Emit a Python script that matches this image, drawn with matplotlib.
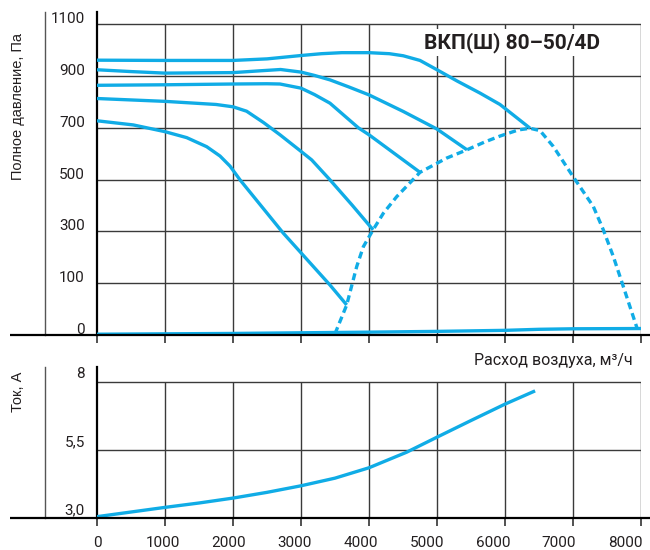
"""
Fan performance chart VKP(Sh) 80-50/4D: total pressure and current vs air flow
"""

import matplotlib
matplotlib.use('Agg')
import matplotlib.pyplot as plt
from matplotlib.transforms import ScaledTranslation, blended_transform_factory


# Axis ticks / labels
FLOW_TICKS = [0, 1000, 2000, 3000, 4000, 5000, 6000, 7000, 8000]
FLOW_LABELS = ["0", "1000", "2000", "3000", "4000", "5000", "6000", "7000", "8000"]
PRESSURE_GRID = [100, 300, 500, 700, 900, 1100]
PRESSURE_TICKS = [-100, 100, 300, 500, 700, 900, 1100]
PRESSURE_LABELS = ["0", "100", "300", "500", "700", "900", "1100"]
CURRENT_GRID = [5.5, 8.0]
CURRENT_TICKS = [3.0, 5.5, 8.0]
CURRENT_LABELS = ["3,0", "5,5", "8"]

# Pressure curves, one per speed step
FLOW_1 = [0, 1000, 2000, 2500, 3000, 3300, 3600, 4000, 4300, 4504, 4750,
          5000, 5300, 5632, 5926, 6370]
PRESS_1 = [961, 960, 960, 966, 979, 986, 990, 990, 986, 978, 960,
           924, 880, 834, 790, 698]

FLOW_2 = [0, 500, 1000, 2000, 2400, 2700, 3000, 3200, 3426, 3700, 4000,
          4504, 5000, 5441]
PRESS_2 = [924, 917, 911, 913, 920, 925, 915, 902, 885, 858, 827,
           763, 695, 615]

FLOW_3 = [0, 1000, 2000, 2500, 2691, 3000, 3200, 3426, 3843, 4000, 4750]
PRESS_3 = [864, 866, 869, 870, 869, 853, 828, 795, 700, 673, 528]

FLOW_4 = [0, 1000, 1750, 2000, 2200, 2450, 2691, 3000, 3157, 3426, 3750, 4060]
PRESS_4 = [813, 802, 790, 781, 764, 720, 673, 609, 576, 499, 402, 306]

FLOW_5 = [0, 534, 1000, 1319, 1613, 1809, 1956, 2103, 2740, 3426, 3672]
PRESS_5 = [727, 711, 685, 662, 627, 591, 552, 499, 293, 93, 16]

# Dashed working-range boundary
LIMIT_FLOW = [3500, 3672, 3819, 3917, 4060, 4211, 4407, 4750, 5142, 5441,
              5700, 5926, 6200, 6370, 6515, 6710, 7000, 7299, 7446, 7593,
              7740, 7940]
LIMIT_PRESS = [-95, 16, 164, 241, 306, 370, 434, 528, 583, 615,
               645, 668, 692, 698, 689, 628, 512, 396, 306, 203,
               87, -72]

# Line along the bottom of the pressure chart
BASE_FLOW = [0, 2000, 4000, 5000, 6000, 6500, 7000, 8000]
BASE_PRESS = [-97, -94, -89, -86, -82, -78, -76, -75]

# Current curve
CURRENT_FLOW = [0, 500, 1000, 1500, 2000, 2500, 3000, 3500, 4000, 4554,
                5000, 5500, 6000, 6420]
CURRENT_AMPS = [3.06, 3.23, 3.40, 3.56, 3.74, 3.95, 4.19, 4.47, 4.85, 5.42,
                5.97, 6.58, 7.18, 7.64]

BLUE = "#10ACE6"
GRID = "#3a3a3a"
TEXT = "#231f20"
TICK_FONT = "Roboto"
LABEL_FONT = ["Liberation Sans", "DejaVu Sans"]

# figure is 650x550 px, positions below in px
W, H = 650.0, 550.0
X0_PX, X1_PX = 97, 641
LEFT_LINE_X = -765      # extra vertical line left of the labels
EXT_LEFT, EXT_RIGHT = -1279, 8132


def px_offset(fig, dx, dy):
    return ScaledTranslation(dx / fig.dpi, dy / fig.dpi, fig.dpi_scale_trans)


def style_axes(ax, fig, ymin, ymax, ticks, labels, label_dy):
    ax.set_xlim(0, 8000)
    ax.set_ylim(ymin, ymax)
    for side in ["top", "right", "bottom"]:
        ax.spines[side].set_visible(False)
    ax.spines["left"].set_linewidth(1.6)
    ax.spines["left"].set_color("black")
    ax.set_yticks([])
    ax.set_xticks(FLOW_TICKS)
    ax.tick_params(axis="x", direction="out", length=6, width=1.1,
                   color="#222222", labelbottom=False)

    # bottom axis line reaching past the plot on both sides
    ax.plot([EXT_LEFT, EXT_RIGHT], [ymin, ymin], color="black", lw=1.6,
            clip_on=False, zorder=4, solid_capstyle="butt")
    ax.plot([LEFT_LINE_X, LEFT_LINE_X], [ymin, ymax], color="#555555", lw=1.0,
            clip_on=False, zorder=2)

    ax.vlines(FLOW_TICKS[1:], ymin, ticks[-1], colors=GRID, lw=1.0, zorder=1)

    # value labels sit a little above their grid line
    tr = ax.transData + px_offset(fig, -12, label_dy)
    for y, txt in zip(ticks, labels):
        ax.text(0, y, txt, transform=tr, ha="right", va="center",
                fontsize=11, family=TICK_FONT, color=TEXT, clip_on=False)


def flow_labels(ax, fig):
    # labels drift slightly left of their ticks in the original
    base = blended_transform_factory(ax.transData, ax.transAxes)
    for i, (x, txt) in enumerate(zip(FLOW_TICKS, FLOW_LABELS)):
        tr = base + px_offset(fig, -2.0 * i, -25)
        ax.text(x, 0, txt, transform=tr, ha="center", va="center",
                fontsize=11, family=TICK_FONT, color=TEXT, clip_on=False)


def main():
    fig = plt.figure(figsize=(W / 100, H / 100), dpi=100)

    # ---- pressure chart ----
    top, bottom = 12, 335
    ax_p = fig.add_axes([X0_PX / W, 1 - bottom / H,
                         (X1_PX - X0_PX) / W, (bottom - top) / H])
    style_axes(ax_p, fig, -100, 1147, PRESSURE_TICKS, PRESSURE_LABELS, 5)
    ax_p.hlines(PRESSURE_GRID, 0, 8000, colors=GRID, lw=1.0, zorder=1)

    curves = [(FLOW_1, PRESS_1), (FLOW_2, PRESS_2), (FLOW_3, PRESS_3),
              (FLOW_4, PRESS_4), (FLOW_5, PRESS_5)]
    for xs, ys in curves:
        ax_p.plot(xs, ys, color=BLUE, lw=2.4, zorder=3,
                  solid_capstyle="butt", solid_joinstyle="round")
    ax_p.plot(LIMIT_FLOW, LIMIT_PRESS, color=BLUE, lw=2.4, zorder=3,
              linestyle=(0, (2.1, 1.3)))
    ax_p.plot(BASE_FLOW, BASE_PRESS, color=BLUE, lw=2.4, zorder=3)

    ax_p.text(6103, 1028, "ВКП(Ш) 80–50/4D", ha="center", va="center",
              fontsize=15, fontweight="bold", family=TICK_FONT, color=TEXT,
              zorder=5,
              bbox=dict(boxstyle="square,pad=0.15", facecolor="white",
                        edgecolor="none"))

    fig.text(18 / W, 1 - 107 / H, "Полное давление, Па", rotation=90,
             ha="center", va="center", fontsize=10.5, family=LABEL_FONT,
             color=TEXT)

    # ---- current chart ----
    top, bottom = 366.7, 518.3
    ax_i = fig.add_axes([X0_PX / W, 1 - bottom / H,
                         (X1_PX - X0_PX) / W, (bottom - top) / H])
    style_axes(ax_i, fig, 3.0, 8.55, CURRENT_TICKS, CURRENT_LABELS, 8)
    ax_i.hlines(CURRENT_GRID, 0, 8000, colors=GRID, lw=1.0, zorder=1)
    ax_i.plot(CURRENT_FLOW, CURRENT_AMPS, color=BLUE, lw=2.4, zorder=3,
              solid_joinstyle="round")
    flow_labels(ax_i, fig)

    fig.text(18 / W, 1 - 392 / H, "Ток, А", rotation=90,
             ha="center", va="center", fontsize=10.5, family=LABEL_FONT,
             color=TEXT)
    fig.text(633 / W, 1 - 360.7 / H, "Расход воздуха, м³/ч", ha="right",
             va="center", fontsize=11.5, family=TICK_FONT, color=TEXT)

    fig.savefig("out.png", dpi=100)
    plt.close(fig)


if __name__ == "__main__":
    main()
